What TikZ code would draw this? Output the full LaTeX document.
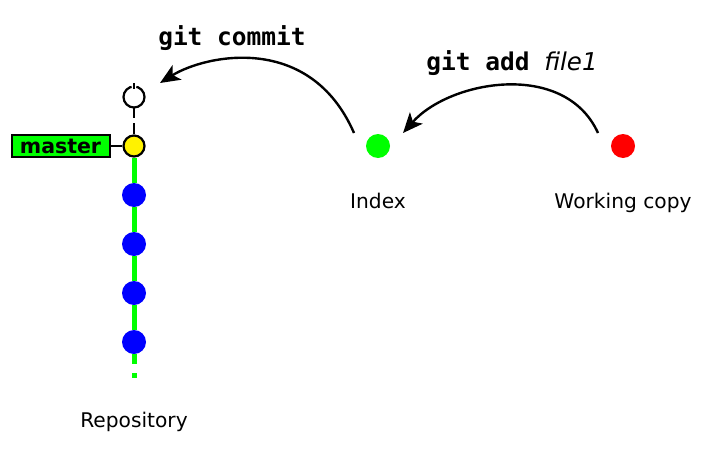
\documentclass[tikz,border=0pt]{standalone}
\usepackage{fontspec}
\setmainfont{DejaVu Sans}
\setmonofont{DejaVu Sans Mono}
\usetikzlibrary{arrows.meta}
\tikzset{
	commitnode/.style = {circle, inner sep=0pt},
	oldcommit/.style = {commitnode, minimum size=24pt, fill=blue},
	headcommit/.style = {commitnode, minimum size=21pt, draw=black, line width=2.2pt, fill=yellow},
	newcommit/.style = {headcommit, fill=white, dash pattern=on 14pt off 4.8pt on 60pt},
	area/.style = {commitnode, minimum size=24pt},
	branch/.style = {rectangle, draw=black, line width=2pt, fill=green, inner sep=0pt, minimum width=98pt, minimum height=22pt, font=\fontsize{20.5}{24}\selectfont\bfseries},
	caption/.style = {anchor=base, font=\fontsize{20.2}{24}\selectfont},
	command/.style = {anchor=base, font=\fontsize{24.5}{29}\selectfont},
	history/.style = {draw=green, line width=5pt},
	link/.style = {draw=black, line width=2.2pt},
	line/.style = {draw, line width=2.4pt, -{Stealth[length=20pt, width=17pt, inset=5pt]}}
}
\begin{document}
\begin{tikzpicture}[x=1pt, y=-1pt, node distance=49pt]
	\useasboundingbox (0,0) rectangle (709,463);
	% Define repository commits
	\node (head) [headcommit] at (134,146) {};
	\node (newc) [newcommit, above of=head] {};
	\node (c1) [oldcommit, below of=head] {};
	\node (c2) [oldcommit, below of=c1] {};
	\node (c3) [oldcommit, below of=c2] {};
	\node (c4) [oldcommit, below of=c3] {};
	\node (master) [branch, left of=head, xshift=-24.5pt] {master};
	\node (index) [area, fill=green, right of=head, xshift=195pt] {};
	\node (work) [area, fill=red, right of=index, xshift=196pt] {};

	% Define labels
	\node (repolabel) [below of=c4, yshift=-36pt, caption] {Repository};
	\node (indexlabel) [below of=index, yshift=-13pt, caption] {Index};
	\node (worklabel) [below of=work, yshift=-13pt, caption] {Working copy};
	\node (commitcmd) [command] at (232,45) {\texttt{\bfseries git commit}};
	\node (addcmd) [command] at (512,70) {\texttt{\bfseries git add }\textit{file1}};

	\coordinate (newtop) at (134,83);
	\coordinate (tail) at (134,378);
	\coordinate (commitfrom) at (354,133);
	\coordinate (committo) at (160,83);
	\coordinate (addfrom) at (598,133);
	\coordinate (addto) at (403,133);

	% Define links
	\foreach \a/\b in {head/c1, c1/c2, c2/c3, c3/c4}
		\path [history](\a.south) -- (\b.north);
	\path [history, dash pattern=on 10pt off 9pt](c4.south) -- (tail);
	\path [link, dash pattern=on 6pt off 19pt on 10pt off 5pt on 20pt](newtop) -- (head.north);
	\path [link](master) -- (head);
	\path [line](commitfrom) .. controls (310,32) and (205,55) .. (committo);
	\path [line](addfrom) .. controls (565,60) and (450,80) .. (addto);
\end{tikzpicture}
\end{document}
